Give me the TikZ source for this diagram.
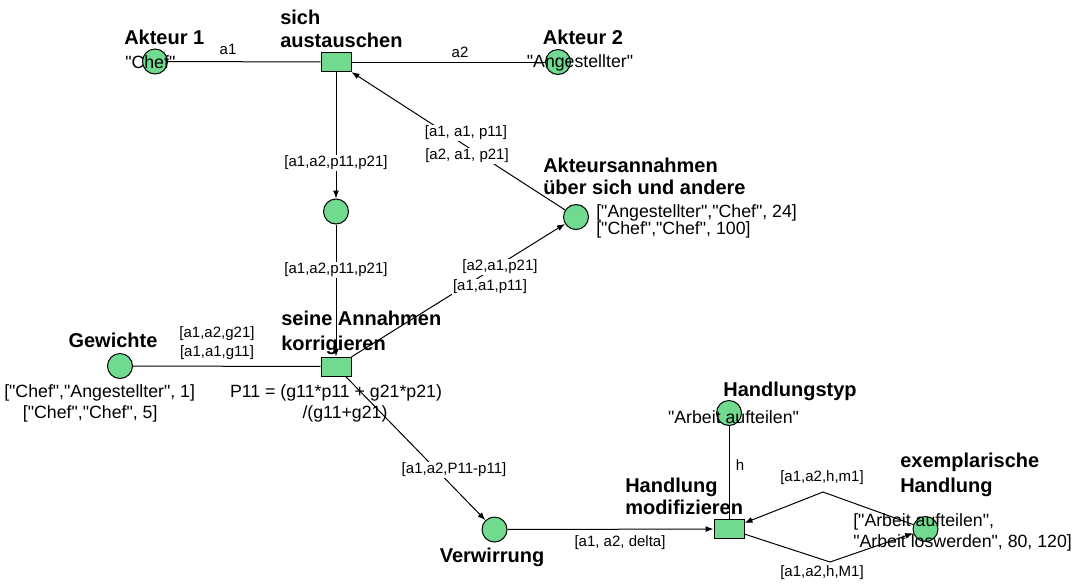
\documentclass[tikz,border=0pt]{standalone}
\usepackage{fontspec}
\setmainfont{Liberation Sans}[Ligatures=TeXOff]
\usetikzlibrary{arrows.meta}
\definecolor{pgreen}{RGB}{112,219,143}
\begin{document}
\begin{tikzpicture}[x=0.75pt,y=-0.75pt,
  place/.style={circle,draw=black,fill=pgreen,line width=0.75pt,minimum size=18.75pt,inner sep=0pt},
  trans/.style={rectangle,draw=black,fill=pgreen,line width=0.75pt,minimum width=22.5pt,minimum height=14.25pt,inner sep=0pt},
  arc/.style={draw=black,line width=0.75pt},
  arr/.style={-{Latex[length=6pt,width=4.5pt]}},
  bname/.style={inner sep=0pt,font=\fontsize{15}{17.25}\selectfont\bfseries},
  tok/.style={inner sep=0pt,font=\fontsize{13.3}{15.75}\selectfont},
  albl/.style={inner sep=0.8pt,font=\fontsize{11.25}{13}\selectfont},
  wlbl/.style={albl,fill=white}]
\useasboundingbox (0,0) rectangle (1073,583);
% places and transitions
\node[place] (A1) at (155,61.5) {};
\node[trans] (TS) at (336,62) {};
\node[place] (A2) at (558,62) {};
\node[place] (PM) at (336,211.5) {};
\node[place] (AA) at (576,217) {};
\node[trans] (TK) at (336,366.5) {};
\node[place] (GW) at (120,366) {};
\node[place] (VW) at (494.5,529.5) {};
\node[trans] (TH) at (729,529) {};
\node[place] (HT) at (729,413) {};
\node[place] (EH) at (925.5,529) {};
\coordinate (B1) at (823,492);
\coordinate (B2) at (830,562);
% arcs
\draw[arc] (A1) -- (TS);
\draw[arc] (TS) -- (A2);
\draw[arc,arr] (TS) -- (PM);
\draw[arc,arr] (AA) -- (TS);
\draw[arc,arr] (PM) -- (TK);
\draw[arc,arr] (TK) -- (AA);
\draw[arc] (GW) -- (TK);
\draw[arc,arr] (TK) -- (VW);
\draw[arc,arr] (VW) -- (TH);
\draw[arc] (HT) -- (TH);
\draw[arc,arr] (EH) -- (B1) -- (TH);
\draw[arc,arr] (TH) -- (B2) -- (EH);
% arc labels
\node[albl] (la1) at (228,49) {a1};
\node[albl] (la2) at (460,52) {a2};
\node[wlbl] (lm1) at (336,163) {[a1,a2,p11,p21]};
\node[wlbl] (lm2) at (336,270) {[a1,a2,p11,p21]};
\node[wlbl] (lr1) at (466,133) {[a1, a1, p11]};
\node[wlbl] (lr2) at (467,156) {[a2, a1, p21]};
\node[wlbl] (lk1) at (500,267) {[a2,a1,p21]};
\node[wlbl] (lk2) at (490,287) {[a1,a1,p11]};
\node[albl] (lg1) at (217,334) {[a1,a2,g21]};
\node[albl] (lg2) at (217,353) {[a1,a1,g11]};
\node[wlbl] (lv) at (454,470) {[a1,a2,P11-p11]};
\node[albl] (ld) at (620,543) {[a1, a2, delta]};
\node[albl] (lh) at (740,465) {h};
\node[albl] (le1) at (822,478) {[a1,a2,h,m1]};
\node[albl] (le2) at (822,573) {[a1,a2,h,M1]};
% names
\node[bname,anchor=west] (nA1) at (124,37) {Akteur 1};
\node[bname,anchor=west,align=left] (nTS) at (280,28.5) {sich\\austauschen};
\node[bname] (nA2) at (583,37) {Akteur 2};
\node[bname,anchor=west,align=left,font=\fontsize{15}{16.5}\selectfont\bfseries] (nAA) at (543,176) {Akteursannahmen\\über sich und andere};
\node[bname] (nGW) at (113,340) {Gewichte};
\node[bname,anchor=west,align=left,font=\fontsize{15}{18.75}\selectfont\bfseries] (nTK) at (281,332.5) {seine Annahmen\\korrigieren};
\node[bname] (nVW) at (492,557) {Verwirrung};
\node[bname,anchor=west,align=left,font=\fontsize{15}{16.5}\selectfont\bfseries] (nTH) at (625,496) {Handlung\\modifizieren};
\node[bname] (nHT) at (790,391) {Handlungstyp};
\node[bname,anchor=west,align=left,font=\fontsize{15}{18.75}\selectfont\bfseries] (nEH) at (900,474.5) {exemplarische\\Handlung};
% tokens and inscriptions
\node[tok,anchor=west] (tA1) at (125,62) {"Chef"};
\node[tok] (tA2) at (580,63) {"Angestellter"};
\node[tok,anchor=west,align=left,font=\fontsize{13.3}{12.75}\selectfont] (tAA) at (596,221.5) {["Angestellter","Chef", 24]\\\relax["Chef","Chef", 100]};
\node[tok,anchor=west,align=left] (tGW) at (4,403) {["Chef","Angestellter", 1]\\\hspace*{14pt}["Chef","Chef", 5]};
\node[tok,align=center] (tTK) at (336,403) {P11 = (g11*p11 + g21*p21)\\\hspace*{13.5pt}/(g11+g21)};
\node[tok] (tHT) at (733.5,417) {"Arbeit aufteilen"};
\node[tok,anchor=west,align=left] (tEH) at (853,532) {["Arbeit aufteilen",\\"Arbeit loswerden", 80, 120]};
\end{tikzpicture}
\end{document}
